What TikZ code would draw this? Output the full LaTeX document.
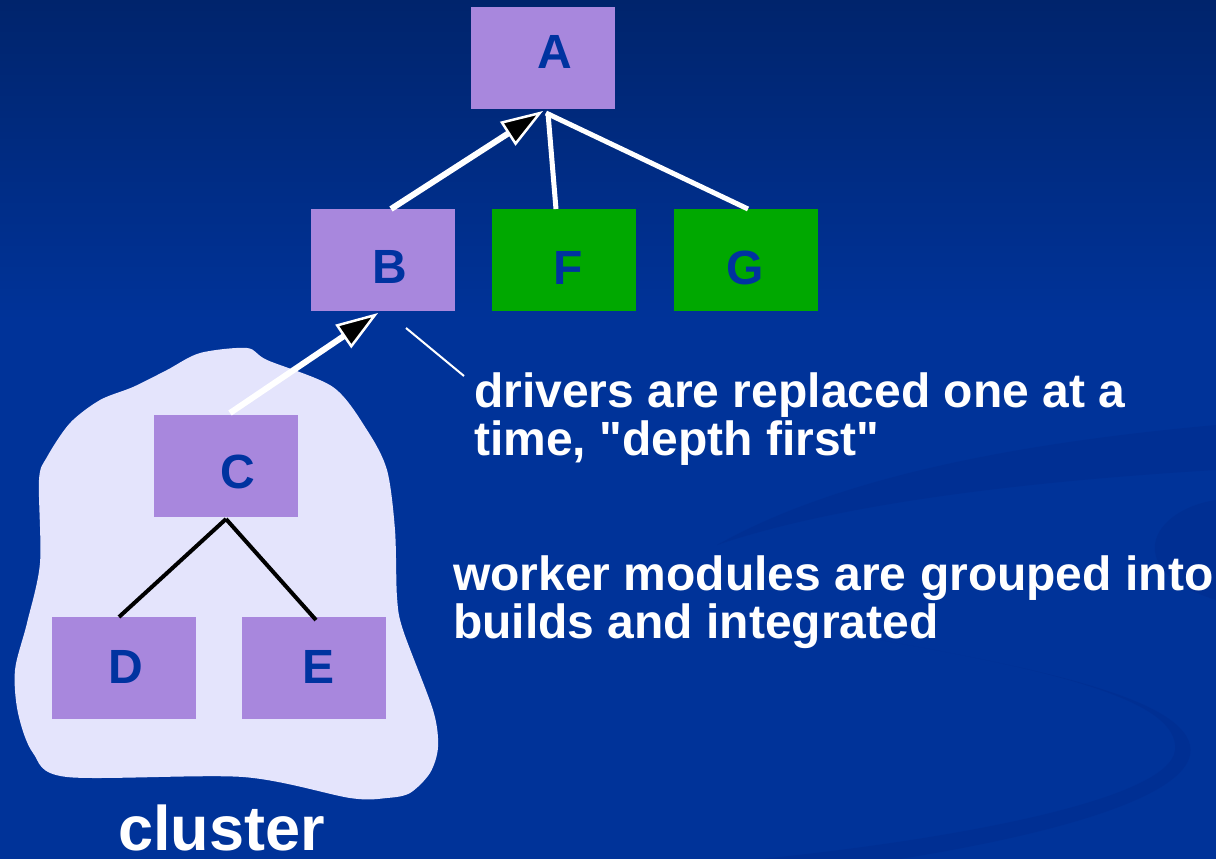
\documentclass[tikz,border=0pt]{standalone}
\usepackage{fontspec}
\setmainfont{Liberation Sans}[Ligatures=TeXOff]
\usetikzlibrary{arrows.meta}
\definecolor{bgblue}{RGB}{0,51,153}
\definecolor{bgtop}{RGB}{0,36,108}
\definecolor{boxpurple}{RGB}{168,135,221}
\definecolor{boxgreen}{RGB}{0,168,0}
\definecolor{letterblue}{RGB}{0,51,160}
\definecolor{cloud}{RGB}{228,228,252}
\definecolor{swirl}{RGB}{0,40,135}
\begin{document}
\begin{tikzpicture}[x=1pt,y=-1pt,
  box/.style={rectangle, minimum width=144pt, minimum height=102pt, inner sep=0pt, outer sep=0pt},
  purplebox/.style={box, fill=boxpurple},
  greenbox/.style={box, fill=boxgreen},
  letter/.style={anchor=base, inner sep=0pt, text=letterblue, font=\fontsize{48}{48}\selectfont\bfseries},
  note/.style={anchor=base west, inner sep=0pt, text=white, align=left, font=\fontsize{48}{48}\selectfont\bfseries},
  clusterlabel/.style={anchor=base west, inner sep=0pt, text=white, font=\fontsize{63}{63}\selectfont\bfseries},
  arrowline/.style={draw=white, line width=6pt, -{Triangle[length=42pt,width=28pt,fill=black,line width=2.5pt]}},
  whiteline/.style={draw=white, line width=5pt},
  blackline/.style={draw=black, line width=4pt},
  thinline/.style={draw=white, line width=2pt}]
\useasboundingbox (0,0) rectangle (1216,859);
% background
\fill[bgblue] (0,0) rectangle (1216,859);
\shade[top color=bgtop, bottom color=bgblue] (0,0) rectangle (1216,320);
% faint swirl
\fill[swirl, opacity=0.3] (717,545) .. controls (850,470) and (1050,440) .. (1216,425) -- (1216,470) .. controls (1050,480) and (850,500) .. (717,545) -- cycle;
\fill[swirl, opacity=0.3] (1216,500) .. controls (1150,510) and (1120,570) .. (1216,600) -- cycle;
\fill[swirl, opacity=0.3] (880,640) .. controls (1050,670) and (1180,700) .. (1175,750) .. controls (1170,800) and (950,840) .. (760,859) -- (900,859) .. controls (1080,830) and (1200,790) .. (1190,745) .. controls (1180,700) and (1050,670) .. (880,640) -- cycle;
% cluster cloud
\fill[cloud] plot[smooth cycle, tension=0.5] coordinates {(200,353) (247,348) (267,360) (333,387) (367,430) (387,470) (395,530) (397,597) (403,630) (433,710) (438,747) (430,773) (410,793) (387,798) (350,798) (243,777) (67,777) (33,753) (18,713) (15,670) (27,623) (40,563) (39,480) (47,457) (70,423) (100,400) (133,387) (167,370)};
% boxes
\node[purplebox] (A) at (543,58) {};
\node[purplebox] (B) at (383,260) {};
\node[greenbox] (F) at (564,260) {};
\node[greenbox] (G) at (746,260) {};
\node[purplebox] (C) at (226,466) {};
\node[purplebox] (D) at (124,668) {};
\node[purplebox] (E) at (314,668) {};
% letters
\node[letter] (Alab) at (555,69) {A};
\node[letter] (Blab) at (390,283) {B};
\node[letter] (Flab) at (568,284) {F};
\node[letter] (Glab) at (745,284) {G};
\node[letter] (Clab) at (238,488) {C};
\node[letter] (Dlab) at (126,683) {D};
\node[letter] (Elab) at (319,683) {E};
% connectors
\draw[whiteline] ([xshift=-8pt]F.north) -- ([xshift=5pt,yshift=-4pt]A.south);
\draw[whiteline] ([xshift=2pt]G.north) -- ([xshift=3pt,yshift=-4pt]A.south);
\draw[arrowline] ([xshift=8pt]B.north) -- ([yshift=-2pt]A.south);
\draw[arrowline] ([xshift=4pt,yshift=2pt]C.north) -- ([xshift=-5pt,yshift=-2pt]B.south);
\draw[blackline] ([yshift=-2pt]C.south) -- ([xshift=-5pt]D.north);
\draw[blackline] ([yshift=-2pt]C.south) -- ([xshift=2pt,yshift=-3pt]E.north);
% annotation
\coordinate (n1) at (406,328);
\coordinate (n2) at (464,376);
\draw[thinline] (n1) -- (n2);
\node[note] (t1) at (474,455) {drivers are replaced one at a\\time, "depth first"};
\node[note] (t2) at (453,638) {worker modules are grouped into\\builds and integrated};
\node[clusterlabel] (cl) at (118,850) {cluster};
\end{tikzpicture}
\end{document}
